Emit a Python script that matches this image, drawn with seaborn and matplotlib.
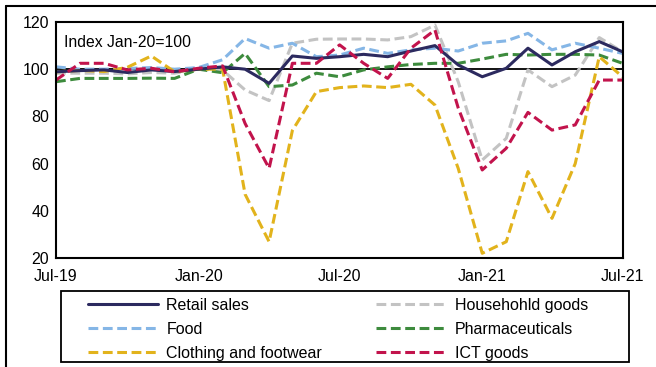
import pandas as pd
import seaborn as sns
import matplotlib.pyplot as plt
import matplotlib.dates as mdates
from matplotlib.lines import Line2D
from matplotlib.patches import Rectangle

months = pd.date_range('2019-07-01', periods=25, freq='MS')

retail = [98.9, 99.4, 99.7, 98.6, 99.7, 99.0, 100.0, 101.0, 100.0, 94.0, 105.6, 104.6, 105.3,
          106.3, 105.3, 107.7, 110.0, 101.8, 96.8, 100.4, 108.9, 101.8, 107.4, 111.7, 107.4]
household = [98.3, 98.3, 98.3, 98.0, 98.6, 98.3, 100.0, 99.6, 91.2, 86.7, 111.0, 112.7, 112.8,
             112.8, 112.4, 113.8, 118.7, 94.7, 61.5, 70.7, 99.7, 92.6, 97.5, 113.4, 107.4]
food = [101.0, 100.0, 100.0, 100.3, 100.7, 100.0, 100.7, 104.0, 113.0, 108.9, 111.0, 105.3, 106.0,
        108.9, 106.7, 108.2, 108.9, 107.7, 111.0, 112.0, 115.2, 108.2, 111.0, 108.9, 106.7]
pharma = [94.7, 96.1, 96.1, 96.1, 96.2, 96.1, 100.0, 98.5, 106.7, 92.6, 93.3, 98.3, 96.8,
          99.7, 101.0, 102.0, 102.5, 102.5, 104.3, 106.3, 106.0, 106.3, 106.3, 106.0, 102.5]
clothing = [98.9, 99.5, 99.0, 100.8, 105.6, 98.9, 100.0, 100.0, 47.0, 26.9, 74.0, 90.5, 92.2,
            92.9, 92.2, 93.6, 84.8, 58.0, 22.0, 26.9, 56.6, 36.8, 60.0, 105.3, 96.8]
ict = [95.4, 102.5, 102.5, 99.7, 100.4, 98.9, 100.4, 101.4, 77.0, 58.0, 102.5, 102.5, 110.3,
       102.5, 96.1, 108.9, 116.6, 83.6, 57.3, 66.5, 81.7, 74.2, 76.4, 95.4, 95.4]

tick_dates = pd.to_datetime(['2019-07-01', '2020-01-01', '2020-07-01', '2021-01-01', '2021-07-01'])

series = [
    ('Retail sales', retail, '#2c2a5f', None),
    ('Food', food, '#85b6e6', (3.2, 1.5)),
    ('Clothing and footwear', clothing, '#e2b31c', (3.2, 1.5)),
    ('Househohld goods', household, '#c3c3c3', (3.2, 1.5)),
    ('Pharmaceuticals', pharma, '#3d8b3d', (3.2, 1.5)),
    ('ICT goods', ict, '#c2134c', (3.2, 1.5)),
]
draw_order = ['Househohld goods', 'Food', 'Pharmaceuticals', 'Clothing and footwear', 'Retail sales', 'ICT goods']

sns.set_theme(style="white")
plt.rcParams['font.family'] = ['Liberation Sans', 'DejaVu Sans']
plt.rcParams['text.color'] = 'black'

W, H = 656, 367
fig = plt.figure(figsize=(W / 100, H / 100), dpi=100)
ax = fig.add_axes([56 / W, 1 - 258 / H, 566.5 / W, 236 / H])

handles = {}
for name in draw_order:
    label, vals, color, dash = next(s for s in series if s[0] == name)
    df = pd.DataFrame({'month': months, 'value': vals})
    ls = '-' if dash is None else (0, dash)
    sns.lineplot(data=df, x='month', y='value', color=color, linewidth=2.2,
                 linestyle=ls, ax=ax, legend=False)
    handles[label] = Line2D([0], [0], color=color, linewidth=2.2, linestyle=ls)

ax.axhline(100, color='black', linewidth=1.3, zorder=1)

ax.set_xlim(months[0], months[-1])
ax.set_ylim(20, 120)
ax.set_yticks([20, 40, 60, 80, 100, 120])
ax.set_xticks(tick_dates)
ax.xaxis.set_major_formatter(mdates.DateFormatter('%b-%y'))
ax.set_xlabel('')
ax.set_ylabel('')
ax.tick_params(axis='both', length=0, labelsize=11.5, colors='black')
ax.tick_params(axis='y', pad=5)
ax.tick_params(axis='x', pad=8)
for spine in ax.spines.values():
    spine.set_color('black')
    spine.set_linewidth(1.5)

ax.text(0.014, 0.915, 'Index Jan-20=100', transform=ax.transAxes, fontsize=11.3,
        va='center', ha='left')

order = [s[0] for s in series]
leg = ax.legend([handles[n] for n in order], order, ncol=2, frameon=False,
                loc='upper left', bbox_to_anchor=(88 / W, 1 - 298 / H),
                bbox_transform=fig.transFigure, borderpad=0, borderaxespad=0,
                handlelength=4.4, handletextpad=0.5, columnspacing=3.4,
                labelspacing=0.55, fontsize=11.5)

fig.add_artist(Rectangle((61 / W, 1 - 362 / H), (629 - 61) / W, 71 / H,
                         transform=fig.transFigure, fill=False, edgecolor='black', linewidth=1.3))
fig.add_artist(Line2D([6 / W, 6 / W], [0, 1 - 6 / H], transform=fig.transFigure,
                      color='black', linewidth=1.5))
fig.add_artist(Line2D([6 / W, 1], [1 - 6 / H, 1 - 6 / H], transform=fig.transFigure,
                      color='black', linewidth=1.5))

plt.savefig('out.png', dpi=100)
plt.close()
